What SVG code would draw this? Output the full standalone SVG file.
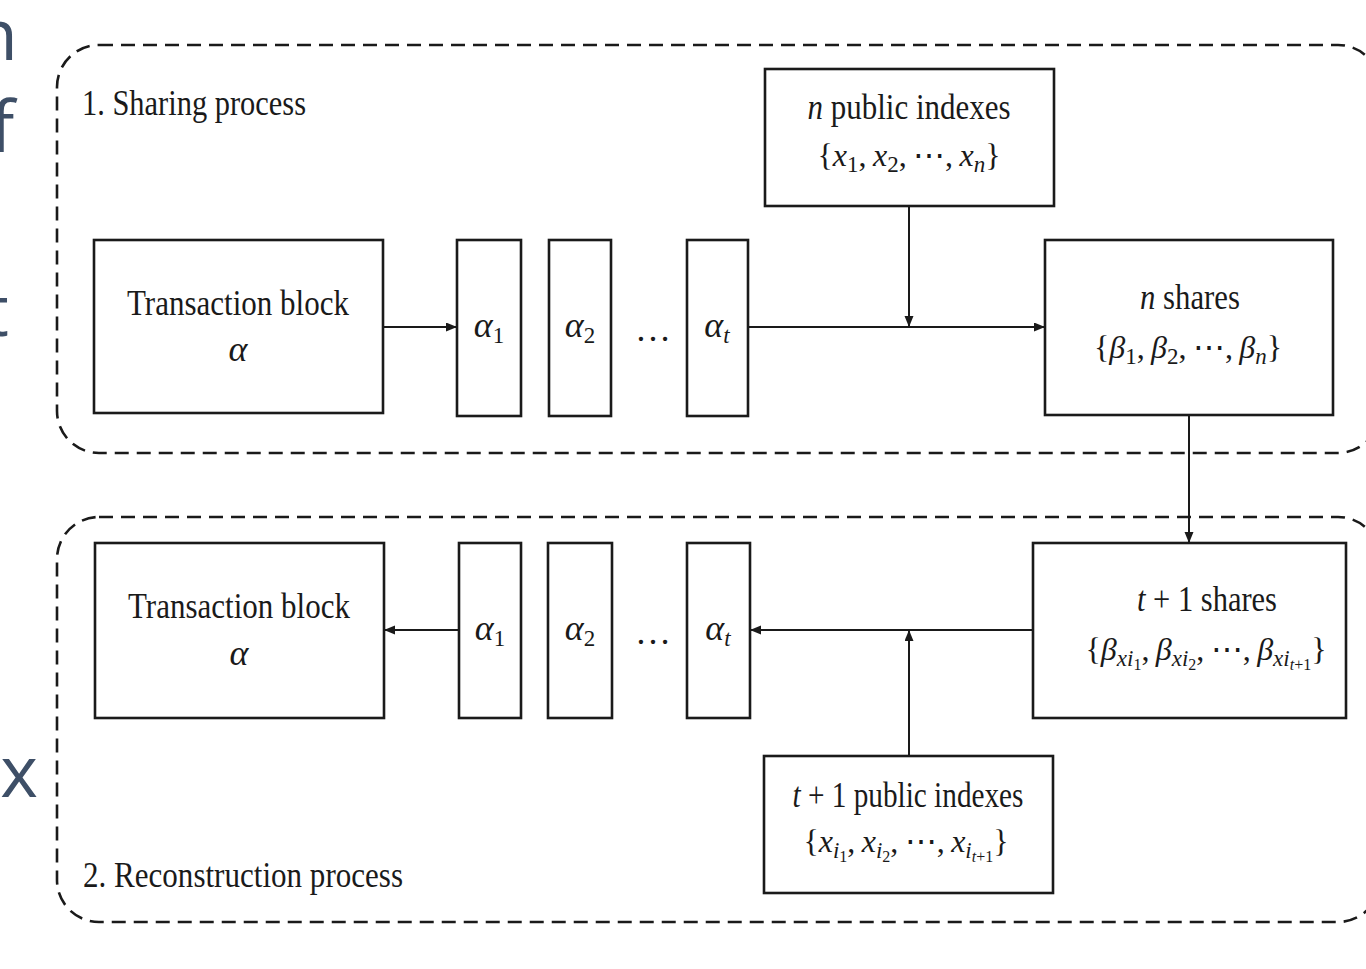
<svg xmlns="http://www.w3.org/2000/svg" width="1366" height="969" viewBox="0 0 1366 969">
  <style>
    .bg { fill: #ffffff; }
    .region { fill: none; stroke: #1a1a1a; stroke-width: 2.6; stroke-dasharray: 14 8; }
    .box { fill: #ffffff; stroke: #1a1a1a; stroke-width: 2.6; }
    .edge { fill: none; stroke: #1a1a1a; stroke-width: 2; }
    .t { font-family: "Liberation Serif", "DejaVu Serif", serif; font-size: 36px; fill: #1a1a1a; }
    .set { font-size: 32px; }
    .i { font-style: italic; }
    .s { font-size: 23px; }
    .ss { font-size: 16px; }
    .side { font-family: "Open Sans", "Noto Sans", sans-serif; font-size: 72px; fill: #3e4f67; }
  </style>
  <defs>
    <marker id="arrow" markerUnits="userSpaceOnUse" markerWidth="12" markerHeight="10" refX="11" refY="4.5" orient="auto">
      <path d="M0,0 L11,4.5 L0,9 z" fill="#1a1a1a"/>
    </marker>
  </defs>

  <rect class="bg" x="0" y="0" width="1366" height="969"/>

  <!-- neighbouring page text, clipped at the left edge -->
  <g id="margin-text">
    <text class="side" x="18" y="60" text-anchor="end">n</text>
    <text class="side" x="-10" y="152">f</text>
    <text class="side" x="9" y="336" text-anchor="end">t</text>
    <text class="side" x="38" y="797" text-anchor="end">ex</text>
  </g>

  <!-- dashed process regions -->
  <g id="region-sharing">
    <rect class="region" x="57" y="45" width="1323" height="408" rx="42" ry="42"/>
    <text class="t" x="82" y="115" textLength="224" lengthAdjust="spacingAndGlyphs">1. Sharing process</text>
  </g>
  <g id="region-reconstruction">
    <rect class="region" x="57" y="517" width="1323" height="405" rx="42" ry="42"/>
    <text class="t" x="83" y="887" textLength="320" lengthAdjust="spacingAndGlyphs">2. Reconstruction process</text>
  </g>

  <!-- connectors -->
  <g id="connectors">
    <line class="edge" x1="383" y1="327" x2="457" y2="327" marker-end="url(#arrow)"/>
    <line class="edge" x1="748" y1="327" x2="1045" y2="327" marker-end="url(#arrow)"/>
    <line class="edge" x1="909" y1="206" x2="909" y2="327" marker-end="url(#arrow)"/>
    <line class="edge" x1="1189" y1="415" x2="1189" y2="543" marker-end="url(#arrow)"/>
    <line class="edge" x1="1033" y1="630" x2="750" y2="630" marker-end="url(#arrow)"/>
    <line class="edge" x1="909" y1="756" x2="909" y2="630" marker-end="url(#arrow)"/>
    <line class="edge" x1="459" y1="630" x2="384" y2="630" marker-end="url(#arrow)"/>
  </g>

  <!-- sharing process nodes -->
  <g id="tx-block-1">
    <rect class="box" x="94" y="240" width="289" height="173"/>
    <text class="t" x="238" y="315" text-anchor="middle" textLength="222" lengthAdjust="spacingAndGlyphs">Transaction block</text>
    <text class="t i" x="238" y="361" text-anchor="middle">α</text>
  </g>
  <g id="alpha1-1">
    <rect class="box" x="457" y="240" width="64" height="176"/>
    <text class="t" x="489" y="337" text-anchor="middle"><tspan class="i">α</tspan><tspan class="s" dy="6">1</tspan></text>
  </g>
  <g id="alpha2-1">
    <rect class="box" x="549" y="240" width="62" height="176"/>
    <text class="t" x="580" y="337" text-anchor="middle"><tspan class="i">α</tspan><tspan class="s" dy="6">2</tspan></text>
  </g>
  <g id="ellipsis-1">
    <text class="t" x="653" y="341" text-anchor="middle">…</text>
  </g>
  <g id="alphat-1">
    <rect class="box" x="687" y="240" width="61" height="176"/>
    <text class="t" x="717" y="337" text-anchor="middle"><tspan class="i">α</tspan><tspan class="s i" dy="6">t</tspan></text>
  </g>
  <g id="public-indexes-n">
    <rect class="box" x="765" y="69" width="289" height="137"/>
    <text class="t" x="909" y="119" text-anchor="middle" textLength="203" lengthAdjust="spacingAndGlyphs"><tspan class="i">n</tspan> public indexes</text>
    <text class="t set" x="909" y="166" text-anchor="middle">{<tspan class="i">x</tspan><tspan class="s" dy="6">1</tspan><tspan dy="-6">,&#8201;</tspan><tspan class="i">x</tspan><tspan class="s" dy="6">2</tspan><tspan dy="-6">,&#8201;⋯,&#8201;</tspan><tspan class="i">x</tspan><tspan class="s i" dy="6">n</tspan><tspan dy="-6">}</tspan></text>
  </g>
  <g id="shares-n">
    <rect class="box" x="1045" y="240" width="288" height="175"/>
    <text class="t" x="1190" y="309" text-anchor="middle" textLength="100" lengthAdjust="spacingAndGlyphs"><tspan class="i">n</tspan> shares</text>
    <text class="t set" x="1188" y="358" text-anchor="middle">{<tspan class="i">β</tspan><tspan class="s" dy="6">1</tspan><tspan dy="-6">,&#8201;</tspan><tspan class="i">β</tspan><tspan class="s" dy="6">2</tspan><tspan dy="-6">,&#8201;⋯,&#8201;</tspan><tspan class="i">β</tspan><tspan class="s i" dy="6">n</tspan><tspan dy="-6">}</tspan></text>
  </g>

  <!-- reconstruction process nodes -->
  <g id="tx-block-2">
    <rect class="box" x="95" y="543" width="289" height="175"/>
    <text class="t" x="239" y="618" text-anchor="middle" textLength="222" lengthAdjust="spacingAndGlyphs">Transaction block</text>
    <text class="t i" x="239" y="665" text-anchor="middle">α</text>
  </g>
  <g id="alpha1-2">
    <rect class="box" x="459" y="543" width="62" height="175"/>
    <text class="t" x="490" y="640" text-anchor="middle"><tspan class="i">α</tspan><tspan class="s" dy="6">1</tspan></text>
  </g>
  <g id="alpha2-2">
    <rect class="box" x="548" y="543" width="64" height="175"/>
    <text class="t" x="580" y="640" text-anchor="middle"><tspan class="i">α</tspan><tspan class="s" dy="6">2</tspan></text>
  </g>
  <g id="ellipsis-2">
    <text class="t" x="653" y="644" text-anchor="middle">…</text>
  </g>
  <g id="alphat-2">
    <rect class="box" x="687" y="543" width="63" height="175"/>
    <text class="t" x="718" y="640" text-anchor="middle"><tspan class="i">α</tspan><tspan class="s i" dy="6">t</tspan></text>
  </g>
  <g id="shares-t1">
    <rect class="box" x="1033" y="543" width="313" height="175"/>
    <text class="t" x="1207" y="611" text-anchor="middle" textLength="140" lengthAdjust="spacingAndGlyphs"><tspan class="i">t</tspan> + 1 shares</text>
    <text class="t set" x="1206" y="660" text-anchor="middle">{<tspan class="i">β</tspan><tspan class="s i" dy="6">xi</tspan><tspan class="ss" dy="4">1</tspan><tspan dy="-10">,&#8201;</tspan><tspan class="i">β</tspan><tspan class="s i" dy="6">xi</tspan><tspan class="ss" dy="4">2</tspan><tspan dy="-10">,&#8201;⋯,&#8201;</tspan><tspan class="i">β</tspan><tspan class="s i" dy="6">xi</tspan><tspan class="ss" dy="4"><tspan class="i">t</tspan>+1</tspan><tspan dy="-10">}</tspan></text>
  </g>
  <g id="public-indexes-t1">
    <rect class="box" x="764" y="756" width="289" height="137"/>
    <text class="t" x="908" y="807" text-anchor="middle" textLength="231" lengthAdjust="spacingAndGlyphs"><tspan class="i">t</tspan> + 1 public indexes</text>
    <text class="t set" x="906" y="852" text-anchor="middle">{<tspan class="i">x</tspan><tspan class="s i" dy="6">i</tspan><tspan class="ss" dy="4">1</tspan><tspan dy="-10">,&#8201;</tspan><tspan class="i">x</tspan><tspan class="s i" dy="6">i</tspan><tspan class="ss" dy="4">2</tspan><tspan dy="-10">,&#8201;⋯,&#8201;</tspan><tspan class="i">x</tspan><tspan class="s i" dy="6">i</tspan><tspan class="ss" dy="4"><tspan class="i">t</tspan>+1</tspan><tspan dy="-10">}</tspan></text>
  </g>
</svg>
